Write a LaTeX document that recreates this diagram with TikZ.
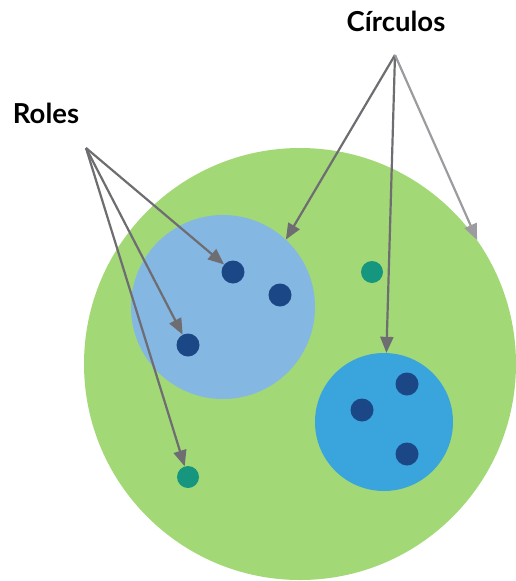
\documentclass[tikz,border=0pt]{standalone}
\usepackage{fontspec}
\setmainfont{Lato}
\usetikzlibrary{arrows.meta}
\definecolor{bigGreen}{HTML}{A2D876}
\definecolor{lightBlue}{HTML}{84B7E2}
\definecolor{midBlue}{HTML}{3AA4DD}
\definecolor{navyDot}{HTML}{1B4786}
\definecolor{tealDot}{HTML}{16967E}
\definecolor{arrowGray}{HTML}{6E6D72}
\definecolor{arrowLight}{HTML}{9C9BA0}
\tikzset{
  disc/.style={circle, inner sep=0pt, draw=none},
  navy/.style={disc, fill=navyDot, minimum size=23pt},
  teal/.style={disc, fill=tealDot, minimum size=22pt},
  pointer/.style={draw=arrowGray, line width=2.2pt, -{Triangle[length=16pt,width=13pt]}},
  lbl/.style={font=\bfseries\fontsize{27.5}{32}\selectfont, anchor=base, inner sep=0pt}
}
\begin{document}
\begin{tikzpicture}[x=1pt,y=-1pt]
\useasboundingbox (0,0) rectangle (516,581);
\node[disc, fill=bigGreen, minimum size=432pt] (big) at (300,364) {};
\node[disc, fill=lightBlue, minimum size=184pt] (lb) at (223,307) {};
\node[disc, fill=midBlue, minimum size=138pt] (mb) at (384,422) {};
\node[navy] (d1) at (233,272) {};
\node[navy] (d2) at (280,295) {};
\node[navy] (d3) at (188,345) {};
\node[teal] (t1) at (372,272) {};
\node[teal] (t2) at (188,477) {};
\node[navy] (m1) at (407,384) {};
\node[navy] (m2) at (362,410) {};
\node[navy] (m3) at (407,454) {};
\node[lbl] (circ) at (396,31) {Círculos};
\node[lbl] (roles) at (46,123) {Roles};
\coordinate (rs) at (86,148);
\coordinate (cs) at (395,55);
\draw[pointer] (rs) -- (d1);
\draw[pointer] (rs) -- (d3);
\draw[pointer] (rs) -- (t2);
\draw[pointer] (cs) -- (lb.47);
\draw[pointer] (cs) -- (mb.88);
\draw[pointer, draw=arrowLight] (cs) -- (big.35);
\end{tikzpicture}
\end{document}
